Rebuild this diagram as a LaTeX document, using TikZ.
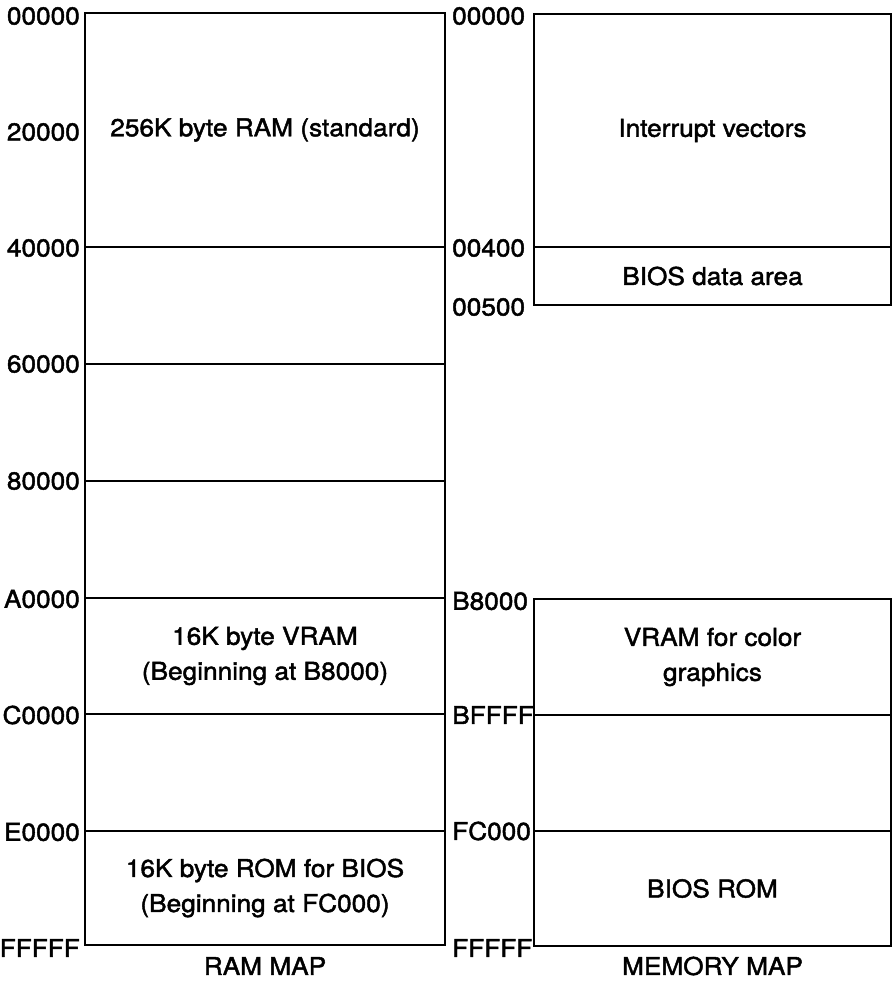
\documentclass[tikz,border=0pt]{standalone}
\usepackage{fontspec}
\setmainfont{TeX Gyre Heros}[FakeBold=1.8,FakeStretch=1.07]
\begin{document}
\begin{tikzpicture}[x=1pt,y=-1pt,
  region/.style={draw=black,line width=2.2pt,rectangle,inner sep=0pt,align=center,
    font=\fontsize{24.5}{35}\selectfont},
  addr/.style={font=\fontsize{24.5}{28}\selectfont,inner sep=0pt},
  maptitle/.style={font=\fontsize{24.5}{28}\selectfont,inner sep=0pt}]
\useasboundingbox (0,0) rectangle (895,983);
% left column
\node[region,minimum width=360pt,minimum height=234pt] (l1) at (265,130) {256K byte RAM (standard)};
\node[region,minimum width=360pt,minimum height=117pt] (l2) at (265,305.5) {};
\node[region,minimum width=360pt,minimum height=117pt] (l3) at (265,422.5) {};
\node[region,minimum width=360pt,minimum height=117pt] (l4) at (265,539.5) {};
\node[region,minimum width=360pt,minimum height=116pt] (l5) at (265,656) {16K byte VRAM\\(Beginning at B8000)};
\node[region,minimum width=360pt,minimum height=117pt] (l6) at (265,772.5) {};
\node[region,minimum width=360pt,minimum height=114pt] (l7) at (265,888) {16K byte ROM for BIOS\\(Beginning at FC000)};
\node[maptitle] (lcap) at (265,966) {RAM MAP};
% left addresses
\node[addr,anchor=east] (a0) at (80,16) {00000};
\node[addr,anchor=east] (a1) at (80,132) {20000};
\node[addr,anchor=east] (a2) at (80,248) {40000};
\node[addr,anchor=east] (a3) at (80,364) {60000};
\node[addr,anchor=east] (a4) at (80,481) {80000};
\node[addr,anchor=east] (a5) at (80,599) {A0000};
\node[addr,anchor=east] (a6) at (80,715) {C0000};
\node[addr,anchor=east] (a7) at (80,832) {E0000};
\node[addr,anchor=east] (a8) at (80,948) {FFFFF};
% right column
\node[region,minimum width=357pt,minimum height=233pt] (r1) at (712.5,130.5) {Interrupt vectors};
\node[region,minimum width=357pt,minimum height=58pt] (r2) at (712.5,276) {BIOS data area};
\node[region,minimum width=357pt,minimum height=116pt] (r3) at (712.5,657) {VRAM for color\\graphics};
\node[region,minimum width=357pt,minimum height=116pt] (r4) at (712.5,773) {};
\node[region,minimum width=357pt,minimum height=115pt] (r5) at (712.5,888.5) {BIOS ROM};
\node[maptitle] (rcap) at (712.5,966) {MEMORY MAP};
% right addresses
\node[addr,anchor=west] (b0) at (452,16) {00000};
\node[addr,anchor=west] (b1) at (452,248) {00400};
\node[addr,anchor=west] (b2) at (452,307) {00500};
\node[addr,anchor=west] (b3) at (452,601) {B8000};
\node[addr,anchor=west] (b4) at (452,715) {BFFFF};
\node[addr,anchor=west] (b5) at (452,831) {FC000};
\node[addr,anchor=west] (b6) at (452,948) {FFFFF};
\end{tikzpicture}
\end{document}
